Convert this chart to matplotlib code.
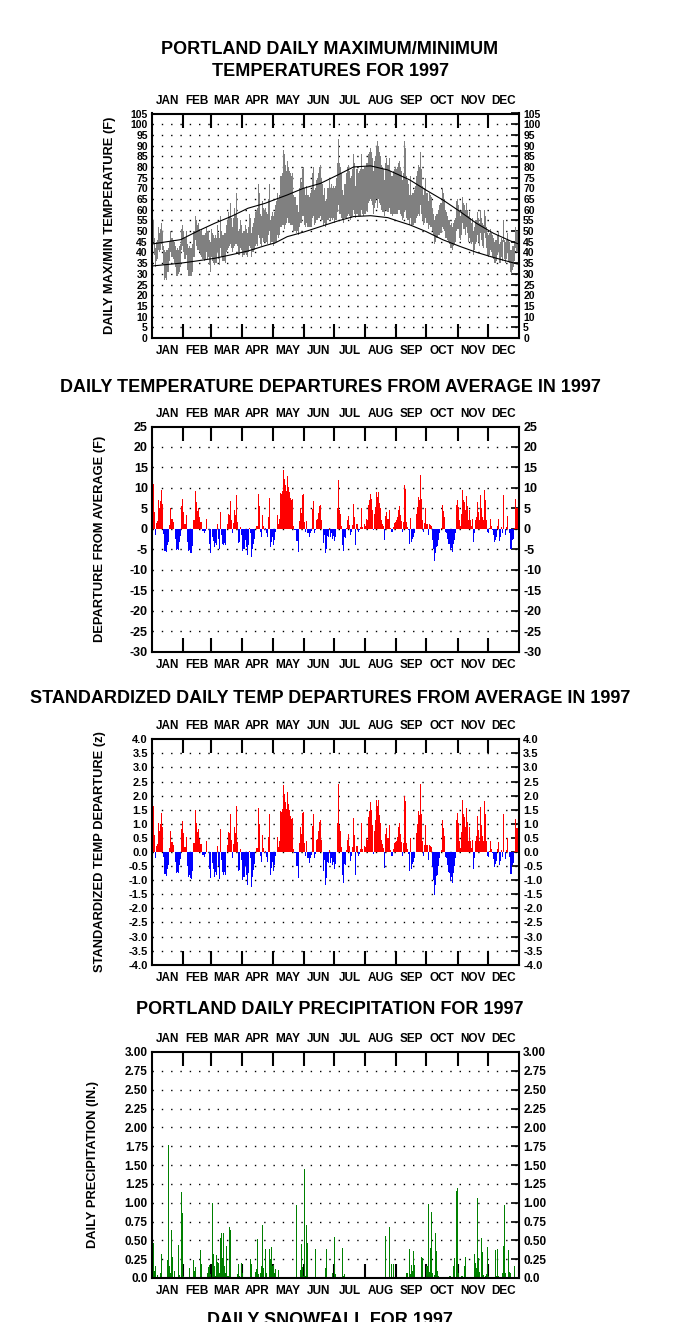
import numpy as np
import matplotlib.pyplot as plt

plt.rcParams['font.family'] = ['Liberation Sans', 'DejaVu Sans']
plt.rcParams['font.weight'] = 'bold'

months = ['JAN', 'FEB', 'MAR', 'APR', 'MAY', 'JUN', 'JUL', 'AUG', 'SEP', 'OCT', 'NOV', 'DEC']
month_days = [31, 28, 31, 30, 31, 30, 31, 31, 30, 31, 30, 31]

# daily max / min temperature (F), Jan 1 .. Dec 31
daily_max = [58, 55, 47, 42, 45, 46, 52, 49, 51, 54, 50, 43, 41, 40, 41, 41, 42, 45, 50, 47, 47, 46, 45, 43, 41, 42, 41, 43, 44, 51, 53,
             50, 47, 47, 50, 44, 42, 43, 42, 42, 44, 50, 50, 57, 55, 53, 54, 51, 50, 51, 48, 48, 48, 49, 52, 50, 50, 46, 45,
             51, 49, 48, 47, 48, 47, 53, 49, 47, 57, 50, 48, 48, 49, 49, 53, 55, 59, 57, 63, 56, 52, 56, 61, 58, 68, 56, 50, 51, 55, 53,
             49, 50, 53, 51, 49, 52, 58, 56, 49, 52, 54, 56, 59, 60, 61, 72, 68, 58, 57, 64, 61, 60, 61, 59, 58, 65, 72, 55, 57, 59,
             57, 59, 62, 64, 68, 65, 67, 76, 76, 77, 88, 86, 81, 78, 83, 80, 78, 77, 76, 77, 67, 66, 66, 62, 62, 59, 70, 75, 73, 79, 80,
             70, 67, 71, 67, 67, 66, 68, 69, 77, 80, 69, 70, 74, 75, 77, 80, 81, 75, 72, 67, 70, 64, 65, 70, 70, 74, 70, 72, 70, 71,
             70, 71, 75, 82, 93, 82, 80, 77, 69, 67, 72, 72, 77, 80, 81, 78, 75, 76, 79, 86, 82, 71, 79, 79, 77, 78, 79, 86, 79, 79, 80,
             80, 82, 82, 86, 87, 89, 87, 84, 78, 83, 85, 90, 92, 90, 87, 85, 81, 80, 79, 74, 82, 84, 81, 81, 84, 78, 76, 76, 78, 79, 80,
             79, 80, 82, 83, 80, 78, 74, 77, 92, 89, 76, 74, 72, 67, 76, 67, 68, 68, 69, 71, 76, 78, 81, 80, 87, 79, 71, 67, 70, 75,
             68, 64, 68, 67, 66, 61, 58, 55, 57, 58, 58, 60, 62, 63, 63, 70, 68, 65, 60, 59, 57, 55, 55, 53, 54, 52, 54, 55, 56, 64, 65,
             62, 59, 57, 60, 66, 63, 62, 60, 63, 60, 57, 59, 56, 54, 56, 50, 52, 55, 55, 59, 56, 54, 60, 56, 54, 53, 60, 57, 52, 49,
             48, 49, 51, 49, 48, 47, 45, 46, 46, 48, 50, 44, 45, 47, 46, 55, 46, 45, 46, 49, 46, 45, 41, 41, 43, 43, 45, 52, 50, 50, 46]
daily_min = [48, 45, 39, 33, 36, 37, 41, 40, 41, 44, 41, 34, 27, 28, 27, 31, 31, 36, 40, 38, 38, 37, 35, 33, 29, 29, 30, 31, 33, 41, 43,
             40, 37, 37, 39, 32, 29, 29, 29, 29, 31, 38, 38, 46, 43, 41, 41, 40, 39, 38, 37, 37, 36, 37, 40, 37, 38, 34, 31,
             38, 36, 35, 34, 35, 35, 40, 37, 34, 42, 38, 36, 36, 36, 35, 40, 41, 42, 43, 44, 42, 40, 42, 43, 44, 44, 43, 39, 39, 42, 41,
             38, 39, 40, 39, 38, 40, 43, 42, 38, 40, 40, 41, 43, 44, 43, 48, 47, 44, 43, 47, 45, 45, 45, 45, 44, 48, 50, 44, 45, 45,
             43, 44, 45, 45, 48, 47, 48, 52, 52, 53, 53, 51, 53, 54, 56, 54, 54, 53, 53, 53, 50, 50, 50, 49, 50, 48, 52, 54, 54, 57, 57,
             53, 52, 54, 52, 52, 52, 52, 52, 56, 57, 53, 54, 55, 55, 56, 56, 57, 55, 55, 53, 54, 52, 53, 55, 55, 56, 55, 56, 55, 56,
             54, 55, 55, 59, 62, 58, 58, 56, 55, 54, 56, 56, 56, 57, 58, 57, 55, 56, 57, 60, 58, 56, 58, 58, 57, 57, 57, 60, 58, 57, 58,
             58, 60, 59, 63, 64, 65, 64, 62, 58, 61, 63, 65, 61, 65, 63, 62, 60, 59, 59, 57, 60, 60, 59, 59, 61, 58, 58, 57, 58, 58, 58,
             58, 58, 60, 60, 58, 57, 55, 56, 59, 60, 56, 55, 55, 53, 56, 53, 53, 53, 54, 54, 56, 57, 58, 57, 62, 58, 55, 53, 54, 56,
             54, 51, 53, 52, 52, 50, 48, 44, 45, 47, 47, 48, 48, 49, 49, 52, 51, 50, 47, 47, 46, 45, 44, 42, 42, 41, 43, 44, 45, 50, 51,
             51, 47, 46, 48, 54, 51, 51, 48, 52, 49, 45, 47, 45, 44, 45, 39, 41, 44, 45, 48, 45, 43, 49, 46, 43, 42, 49, 47, 42, 39,
             38, 39, 41, 40, 38, 37, 35, 35, 36, 39, 40, 35, 35, 38, 36, 45, 37, 35, 37, 40, 36, 35, 31, 30, 32, 33, 36, 42, 40, 40, 36]

# normal max / min curves (F) at selected days of the year
normal_day = [0, 28, 45, 62, 78, 95, 112, 122, 134, 150, 167, 184, 200, 217, 234, 244, 256, 272, 289, 306, 322, 339, 356, 364]
normal_max = [44, 46, 50, 53.7, 56.8, 60.7, 63, 64.8, 66.9, 70, 72.3, 76.2, 80, 80.5, 78.6, 76.5, 73.9, 69.2, 64.5, 59.1, 53.7, 49, 45.4, 44]
normal_min = [33.7, 35, 36.1, 37.3, 38.9, 40.7, 43.2, 44.5, 47.4, 49.5, 52.1, 54.7, 56.8, 57.2, 56.3, 54.7, 52.9, 49.8, 45.9, 42.8, 40.1, 37.7, 35.5, 34.5]

# daily departure from average (F)
departure = [14, 11, 4, -1.5, 1.5, 2, 7, 5, 6.7, 9.4, 6, -1.3, -5.4, -5.4, -5.7, -4, -3.2, 0.9, 5.2, 2.5, 2.4, 1.6, 0, -2.4, -5.1, -4.9, -5.1, -3.2, -1.8, 5.5, 7.4,
             4.2, 1.1, 1.1, 3.3, -3.2, -5.5, -5.1, -5.8, -6, -4.2, 2.1, 2.1, 9.3, 6.5, 4.4, 5.2, 2.9, 1.7, 1.7, -0.6, -0.6, -1.1, -0.5, 2.4, 0, 0, -3.8, -5.9,
             0, -2, -3, -4.5, -3.5, -4, 1.1, -2.5, -4.8, 4, -1.5, -3.6, -4, -3.5, -4, 0, 1.3, 3.6, 3.3, 6.8, 2.1, -1.1, 1.5, 4.5, 3.3, 8.2, 1.7, -3.4, -3.2, 0.5, -1.4,
             -5.4, -4.8, -2.8, -4.4, -6.4, -4, 0.3, -1.1, -6.8, -4.8, -3.6, -2.4, 0, 0.7, 0.7, 8.5, 5.5, -0.8, -2, 3.3, 0.7, -0.3, 0.3, -1, -2, 2.9, 7.5, -4.4, -3.2, -2,
             -4, -2.8, -0.8, 0, 3.3, 1.1, 2.4, 8.8, 8.6, 9.2, 14.3, 12.3, 10.7, 9.2, 12.8, 10.2, 8.9, 7.6, 7, 7.3, 0.7, -0.3, -0.3, -2.9, -2.9, -5.6, 1.9, 5.2, 3.9, 8.3, 8.5,
             1.6, -0.7, 2, -1.1, -1, -2, -1.1, -0.6, 4.8, 6.9, -1, -0.3, 2.1, 2.3, 3.9, 5.5, 5.8, 2.1, 0, -3.4, -1.5, -6, -4.8, -1.8, -2, 0.3, -2, -1.1, -2.4, -1.8,
             -2.9, -2.1, 0, 5, 11.9, 4.7, 3.7, 0.8, -4, -5.4, -2.1, -2.2, 0.3, 2.1, 3.2, 1, -1.5, -0.7, 0.9, 6, 3, -3.9, 1.1, 1.1, -0.7, -0.3, 0.5, 5, 0.5, 0, 1.1,
             0.8, 2.3, 2.1, 5.9, 7, 8.5, 7.2, 4.6, -0.3, 3.6, 5.4, 8.9, 7.8, 8.9, 6.3, 5, 2.1, 1.3, 0.7, -2.8, 3.1, 4.1, 2.3, 2.3, 4.6, 0.3, -0.7, -0.7, 0.5, 1.5, 1.7,
             2.1, 2.9, 4.7, 5.5, 3.4, 2, -0.7, 1.7, 10.8, 9.8, 1.7, 0.5, -0.3, -3.6, 2.6, -3.2, -2.4, -2, -1.1, 0, 3.7, 5.4, 7.8, 7, 13.1, 7.3, 2.1, -0.7, 1.4, 5.2,
             1.3, -1.5, 1.3, 1, 0.8, -2.8, -5, -7.8, -6, -4.4, -4.2, -2.6, -1.1, 0, 0.3, 5.8, 4.4, 2.9, -0.8, -1.1, -2.4, -3.6, -3.7, -5.2, -4.6, -5.6, -3.7, -2.6, -1.1, 5.8, 7,
             5.4, 2.1, 0.7, 3.7, 9.6, 7, 6.5, 4.6, 8.1, 5.5, 2.1, 4.6, 2.1, 0.7, 2.3, -3.2, -1.1, 2.1, 2.9, 6.6, 4.1, 2.1, 8.2, 5, 2.9, 2.1, 9.4, 7, 2.1, -0.7,
             -1, 0.3, 2.5, 0.7, -0.3, -1.5, -3.2, -2.6, -2, 0.7, 2.3, -2.9, -2, 0.5, -1, 8.3, 0, -1.5, 0.5, 3.1, 0, -1.1, -4.8, -4.8, -2.8, -2.4, 0.3, 7.2, 5.2, 5.2, 1.5]

# standardized daily departure (z)
std_departure = [2.06, 1.62, 0.59, -0.22, 0.22, 0.29, 1.03, 0.74, 0.99, 1.38, 0.88, -0.19, -0.79, -0.79, -0.84, -0.59, -0.47, 0.13, 0.76, 0.37, 0.35, 0.24, 0, -0.35, -0.75, -0.72, -0.75, -0.47, -0.26, 0.81, 1.09,
                 0.67, 0.17, 0.17, 0.52, -0.51, -0.87, -0.81, -0.92, -0.95, -0.67, 0.33, 0.33, 1.48, 1.03, 0.70, 0.83, 0.46, 0.27, 0.27, -0.1, -0.1, -0.17, -0.08, 0.38, 0, 0, -0.6, -0.94,
                 0, -0.4, -0.6, -0.9, -0.7, -0.8, 0.22, -0.5, -0.96, 0.8, -0.3, -0.72, -0.8, -0.7, -0.8, 0, 0.26, 0.72, 0.66, 1.36, 0.42, -0.22, 0.3, 0.9, 0.66, 1.64, 0.34, -0.68, -0.64, 0.1, -0.28,
                 -0.98, -0.87, -0.51, -0.8, -1.16, -0.73, 0.05, -0.2, -1.24, -0.87, -0.65, -0.44, 0, 0.13, 0.13, 1.55, 1.0, -0.15, -0.36, 0.6, 0.13, -0.05, 0.05, -0.18, -0.36, 0.53, 1.36, -0.8, -0.58, -0.36,
                 -0.67, -0.47, -0.13, 0, 0.55, 0.18, 0.4, 1.47, 1.43, 1.53, 2.38, 2.05, 1.78, 1.53, 2.13, 1.7, 1.48, 1.27, 1.17, 1.22, 0.12, -0.05, -0.05, -0.48, -0.48, -0.93, 0.32, 0.87, 0.65, 1.38, 1.42,
                 0.31, -0.14, 0.39, -0.22, -0.2, -0.39, -0.22, -0.12, 0.94, 1.35, -0.2, -0.06, 0.41, 0.45, 0.76, 1.08, 1.14, 0.41, 0, -0.67, -0.29, -1.18, -0.94, -0.35, -0.39, 0.06, -0.39, -0.22, -0.47, -0.35,
                 -0.59, -0.43, 0, 1.02, 2.43, 0.96, 0.76, 0.16, -0.82, -1.1, -0.43, -0.45, 0.06, 0.43, 0.65, 0.2, -0.31, -0.14, 0.18, 1.22, 0.61, -0.8, 0.22, 0.22, -0.14, -0.06, 0.1, 1.02, 0.1, 0, 0.22,
                 0.17, 0.48, 0.44, 1.23, 1.46, 1.77, 1.5, 0.96, -0.06, 0.75, 1.13, 1.85, 1.63, 1.85, 1.31, 1.04, 0.44, 0.27, 0.15, -0.58, 0.65, 0.85, 0.48, 0.48, 0.96, 0.06, -0.15, -0.15, 0.1, 0.31, 0.35,
                 0.39, 0.54, 0.87, 1.02, 0.63, 0.37, -0.13, 0.31, 2.0, 1.81, 0.31, 0.09, -0.06, -0.67, 0.48, -0.59, -0.44, -0.37, -0.2, 0, 0.69, 1.0, 1.44, 1.3, 2.43, 1.35, 0.39, -0.13, 0.26, 0.96,
                 0.25, -0.29, 0.25, 0.2, 0.16, -0.55, -0.98, -1.53, -1.18, -0.86, -0.82, -0.51, -0.22, 0, 0.06, 1.14, 0.86, 0.57, -0.16, -0.22, -0.47, -0.71, -0.73, -1.02, -0.9, -1.1, -0.73, -0.51, -0.22, 1.14, 1.37,
                 1.04, 0.4, 0.13, 0.71, 1.85, 1.35, 1.25, 0.88, 1.56, 1.06, 0.4, 0.88, 0.4, 0.13, 0.44, -0.62, -0.21, 0.4, 0.56, 1.27, 0.79, 0.4, 1.58, 0.96, 0.56, 0.4, 1.81, 1.35, 0.4, -0.13,
                 -0.16, 0.05, 0.4, 0.11, -0.05, -0.24, -0.52, -0.42, -0.32, 0.11, 0.37, -0.47, -0.32, 0.08, -0.16, 1.34, 0, -0.24, 0.08, 0.5, 0, -0.18, -0.77, -0.77, -0.45, -0.39, 0.05, 1.16, 0.84, 0.84, 0.24]

# daily precipitation (in.), only days with a measurable amount
precip_day = [0, 1, 2, 3, 5, 8, 9, 15, 16, 17, 18, 19, 20, 22, 26, 27, 29, 30, 31, 32, 37, 41, 42, 43, 45, 46, 47, 48, 49, 50,
              55, 56, 57, 58, 60, 61, 62, 63, 64, 65, 66, 67, 68, 69, 70, 71, 72, 73, 74, 75, 76, 77, 78, 79, 85, 86, 87, 89, 90, 93,
              97, 98, 99, 102, 103, 104, 105, 107, 108, 109, 110, 112, 113, 116, 117, 118, 119, 120, 121, 122, 123, 125, 126, 134, 143, 144, 147, 148, 149, 150,
              151, 152, 153, 154, 155, 162, 163, 168, 169, 172, 173, 174, 179, 181, 182, 187, 189, 190, 191, 198, 202, 232, 235, 236, 238, 240,
              252, 253, 254, 256, 257, 258, 259, 260, 261, 268, 269, 273, 274, 275, 276, 277, 278, 280, 281, 282, 283, 284, 290, 295, 296, 299, 300, 302, 303, 304,
              307, 308, 310, 311, 320, 321, 322, 323, 324, 325, 327, 328, 329, 331, 332, 333, 334, 335, 341, 342, 343, 344, 348, 349, 350, 351, 353, 354, 355, 356, 357, 360, 361]
precip_amount = [0.48, 0.46, 0.09, 0.16, 0.04, 0.07, 0.32, 0.24, 1.77, 0.16, 0.06, 0.64, 0.28, 0.09, 0.44, 0.04, 1.14, 0.86, 0.03, 0.01, 0.13, 0.24, 0.09, 0.14, 0.01, 0.01, 0.01, 0.37, 0.19, 0.01,
                 0.06, 0.14, 0.17, 0.05, 1.0, 0.32, 0.16, 0.03, 0.3, 0.21, 0.2, 0.06, 0.53, 0.6, 0.27, 0.6, 0.16, 0.07, 0.43, 0.03, 0.03, 0.68, 0.64, 0.01, 0.05, 0.18, 0.03, 0.2, 0.06, 0.01,
                 0.25, 0.18, 0.01, 0.08, 0.12, 0.52, 0.05, 0.07, 0.16, 0.71, 0.13, 0.39, 0.07, 0.39, 0.25, 0.41, 0.16, 0.17, 0.07, 0.12, 0.01, 0.11, 0.01, 0.01, 0.97, 0.01, 0.11, 0.45, 0.14, 0.03,
                 1.45, 0.03, 0.7, 0.46, 0.01, 0.39, 0.01, 0.01, 0.01, 0.13, 0.38, 0.01, 0.06, 0.55, 0.05, 0.01, 0.4, 0.03, 0.05, 0.01, 0.01, 0.56, 0.01, 0.68, 0.18, 0.18,
                 0.01, 0.07, 0.07, 0.39, 0.05, 0.17, 0.09, 0.36, 0.17, 0.28, 0.26, 0.16, 0.98, 0.08, 0.4, 0.88, 0.06, 0.04, 0.6, 0.36, 0.09, 0.03, 0.01, 0.02, 0.03, 0.16, 0.27, 1.15, 1.2, 0.07,
                 0.02, 0.02, 0.16, 0.28, 0.32, 0.2, 0.13, 1.06, 0.26, 0.08, 0.53, 0.35, 0.04, 0.02, 0.05, 0.41, 0.03, 0.01, 0.37, 0.03, 0.38, 0.03, 0.07, 0.43, 0.97, 0.07, 0.01, 0.37, 0.08, 0.07, 0.01, 0.16, 0.01]

W, H = 674, 1322
fig = plt.figure(figsize=(W / 100, H / 100), dpi=100)
fig.patch.set_facecolor('white')

edges = np.cumsum([0] + month_days) - 0.5
mids = (edges[:-1] + edges[1:]) / 2


def px_axes(top, bottom, left=152, right=519):
    return fig.add_axes([left / W, 1 - bottom / H, (right - left) / W, (bottom - top) / H])


def frame(ax, lo, hi, step, labels, ylabel, label_x, tsize=9):
    ax.set_xlim(-0.5, 364.5)
    ax.set_ylim(lo, hi)
    ticks = np.arange(lo, hi + step / 2, step)
    ax.set_yticks(ticks)
    ax.set_yticklabels(labels)
    for t in ticks[1:-1]:
        ax.axhline(t, color='black', lw=1.0, ls=(0, (1, 5.7)), zorder=1)
    for s in ax.spines.values():
        s.set_linewidth(1.5)
    ax.tick_params(axis='y', direction='in', length=6, width=1.2, left=False, right=True,
                   labelleft=True, labelright=True, labelsize=tsize, pad=3)
    ax.set_xticks(edges[1:-1])
    ax.set_xticklabels([])
    ax.set_xticks(mids, minor=True)
    ax.set_xticklabels(months, minor=True)
    ax.tick_params(axis='x', which='major', direction='in', length=10, width=1.5,
                   top=True, bottom=True)
    ax.tick_params(axis='x', which='minor', length=0, top=True, bottom=True,
                   labeltop=True, labelbottom=True, labelsize=8.5, pad=5)
    ax.set_ylabel(ylabel, fontsize=9.3, fontweight='bold')
    ax.yaxis.set_label_coords(label_x, 0.5)


def title(text, y):
    fig.text(330 / W, 1 - y / H, text, ha='center', va='center', fontsize=13, fontweight='bold')


days = np.arange(len(daily_max))

# panel 1: max/min temperatures
ax1 = px_axes(113.5, 338)
lo = np.array(daily_min)
ax1.bar(days, np.array(daily_max) - lo, bottom=lo, width=1.0, color='#808080', lw=0, zorder=2)
ax1.plot(normal_day, normal_max, color='black', lw=0.8, zorder=3)
ax1.plot(normal_day, normal_min, color='black', lw=0.8, zorder=3)
frame(ax1, 0, 105, 5, [str(v) for v in range(0, 106, 5)], 'DAILY MAX/MIN TEMPERATURE (F)', -0.098, tsize=7.5)
title('PORTLAND DAILY MAXIMUM/MINIMUM', 50)
title('TEMPERATURES FOR 1997', 72)

# panel 2: departures
ax2 = px_axes(426.5, 651.7)
dep = np.array(departure)
ax2.bar(days, dep, width=1.0, color=np.where(dep >= 0, '#ff0000', '#0000ff'), lw=0, zorder=2)
frame(ax2, -30, 25, 5, [str(v) for v in range(-30, 26, 5)], 'DEPARTURE FROM AVERAGE (F)', -0.125)
title('DAILY TEMPERATURE DEPARTURES FROM AVERAGE IN 1997', 387)

# panel 3: standardized departures
ax3 = px_axes(739.3, 964.7)
z = np.array(std_departure)
ax3.bar(days, z, width=1.0, color=np.where(z >= 0, '#ff0000', '#0000ff'), lw=0, zorder=2)
frame(ax3, -4, 4, 0.5, ['%.1f' % v for v in np.arange(-4, 4.01, 0.5)], 'STANDARDIZED TEMP DEPARTURE (z)', -0.125, tsize=8)
title('STANDARDIZED DAILY TEMP DEPARTURES FROM AVERAGE IN 1997', 699)

# panel 4: precipitation
ax4 = px_axes(1052, 1278)
ax4.bar(precip_day, precip_amount, width=1.0, color='#008000', lw=0, zorder=2)
plabels = ['0.0'] + ['%.2f' % v for v in np.arange(0.25, 3.01, 0.25)]
frame(ax4, 0, 3.0, 0.25, plabels, 'DAILY PRECIPITATION (IN.)', -0.144, tsize=8.5)
title('PORTLAND DAILY PRECIPITATION FOR 1997', 1010)

# next chart title, cut off at the bottom edge as in the source page
fig.text(330 / W, 1 - 1312 / H, 'DAILY SNOWFALL FOR 1997', ha='center', va='top',
         fontsize=13, fontweight='bold')

fig.savefig('out.png', dpi=100, facecolor='white')
